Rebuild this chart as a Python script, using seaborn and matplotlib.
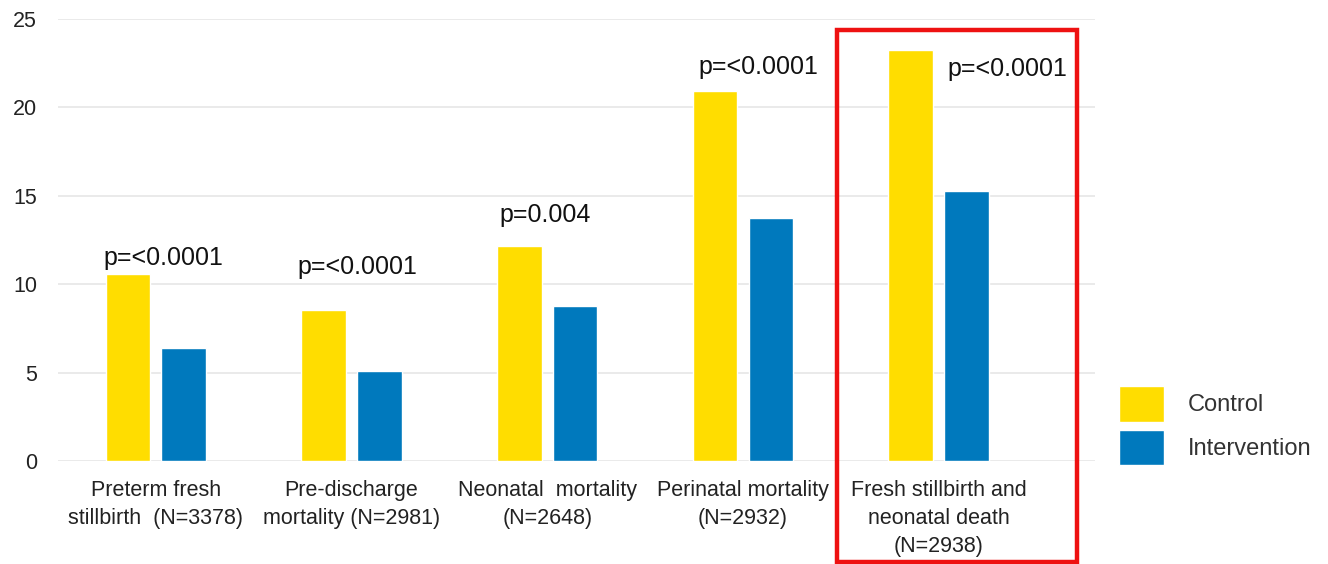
import numpy as np
import pandas as pd
import matplotlib
matplotlib.use('Agg')
import matplotlib.pyplot as plt
from matplotlib.patches import Rectangle
import seaborn as sns

categories = [
    'Preterm fresh\nstillbirth  (N=3378)',
    'Pre-discharge\nmortality (N=2981)',
    'Neonatal  mortality\n(N=2648)',
    'Perinatal mortality\n(N=2932)',
    'Fresh stillbirth and\nneonatal death\n(N=2938)',
]
control = [10.6, 8.55, 12.15, 20.95, 23.25]
intervention = [6.4, 5.1, 8.75, 13.75, 15.25]
p_values = ['p=<0.0001', 'p=<0.0001', 'p=0.004', 'p=<0.0001', 'p=<0.0001']

df = pd.DataFrame({
    'outcome': categories * 2,
    'group': ['Control'] * 5 + ['Intervention'] * 5,
    'value': control + intervention,
})

sns.set_style('white')
plt.rcParams['font.family'] = ['Liberation Sans', 'DejaVu Sans']

fig = plt.figure(figsize=(13.28, 5.64), dpi=100)
ax = fig.add_axes([0.0437, 0.1826, 0.781, 0.7837])

sns.barplot(data=df, x='outcome', y='value', hue='group',
            palette={'Control': '#FFDD00', 'Intervention': '#0079BD'},
            saturation=1, width=0.57, gap=0.2, ax=ax, legend=True)

ax.set_xlim(-0.5, 4.8)
ax.set_ylim(0, 25)
ax.set_yticks([0, 5, 10, 15, 20, 25])
ax.yaxis.grid(True, color='#e6e6e6', linewidth=1.2)
ax.set_axisbelow(True)
for s in ax.spines.values():
    s.set_visible(False)
ax.set_xlabel('')
ax.set_ylabel('')
ax.tick_params(axis='y', labelsize=15.5, labelcolor='#222222', pad=15, length=0)
ax.tick_params(axis='x', labelsize=15.5, labelcolor='#222222', pad=14, length=0)
for lab in ax.get_xticklabels():
    lab.set_horizontalalignment('center')
    lab.set_verticalalignment('top')
    lab.set_multialignment('center')
    lab.set_linespacing(1.42)

# p-value annotations
p_x = [0.04, 1.03, 1.99, 3.08, 4.35]
p_y = [11.5, 11.0, 13.9, 22.3, 22.2]
for x, y, t in zip(p_x, p_y, p_values):
    ax.text(x, y, t, ha='center', va='center', fontsize=18, color='#111111')

# red highlight frame around the last group
ax.add_patch(Rectangle((3.48, -5.72), 1.225, 30.1, fill=False,
                       edgecolor='#ee1111', linewidth=3.2, clip_on=False))

leg = ax.legend(loc='center left', bbox_to_anchor=(1.0115, 0.08), frameon=False,
                fontsize=17, borderpad=0, handlelength=1.9, handleheight=1.95,
                handletextpad=1.0, labelspacing=0.35)
for t in leg.get_texts():
    t.set_color('#333333')

fig.savefig('out.png', dpi=100)
